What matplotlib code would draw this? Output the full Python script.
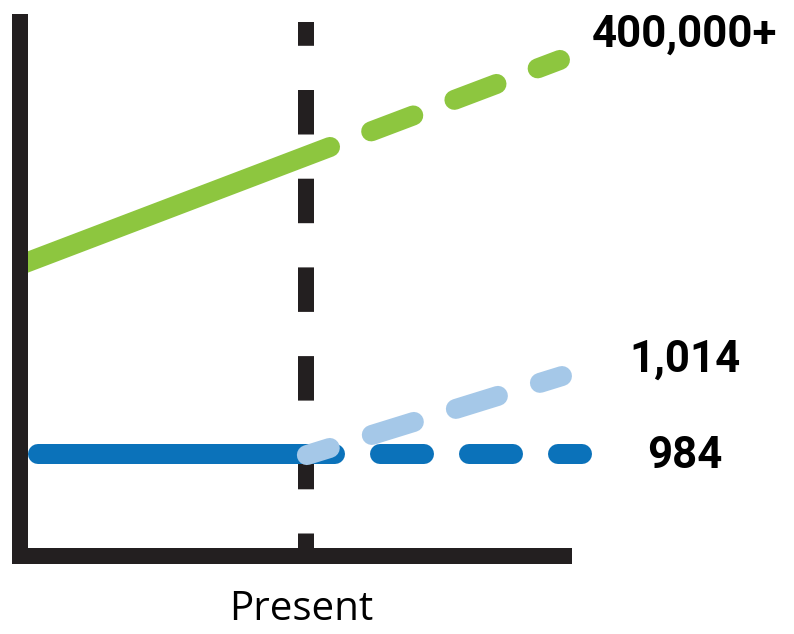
import matplotlib
matplotlib.use("Agg")
import matplotlib.pyplot as plt

plt.rcParams['lines.scale_dashes'] = False

# ---- data (schematic: x = time, present = 1.0; y = relative level) ----
present_x = 1.0
present_label = "Present"

green_x = [0.0, 1.084, 1.888]      # start, end of observed, projection
green_y = [0.545, 0.766, 0.929]

dark_x = [0.063, 1.101, 1.965]
dark_y = [0.191, 0.191, 0.191]

light_x = [1.003, 1.895]
light_y = [0.189, 0.337]

end_labels = ["400,000+", "1,014", "984"]
label_x = [2.325, 2.325, 2.325]
label_y = [0.953, 0.346, 0.165]

# ---- style ----
PX = 0.72  # points per pixel at dpi 100
BLACK = "#231F20"
GREEN = "#8DC63F"
DARK = "#0B72BA"
LIGHT = "#A5C8E8"

fig = plt.figure(figsize=(7.94, 6.34), dpi=100)
ax = fig.add_axes([20/794, 78/634, 544/794, 534/634])
ax.set_xlim(0, 544/286)
ax.set_ylim(0, 1)
ax.set_xticks([])
ax.set_yticks([])
for s in ("top", "right"):
    ax.spines[s].set_visible(False)
for s in ("left", "bottom"):
    ax.spines[s].set_linewidth(16*PX)
    ax.spines[s].set_color(BLACK)
ax.spines["bottom"].set_capstyle("projecting")

# present marker
ax.plot([present_x, present_x], [1, 0], color=BLACK, lw=16*PX,
        linestyle=(20.7*PX, (44.5*PX, 44.2*PX)), dash_capstyle='butt',
        zorder=1.5)

LW = 20*PX
# green
ax.plot(green_x[:2], green_y[:2], color=GREEN, lw=LW,
        solid_capstyle='round', zorder=2)
ax.plot(green_x[1:], green_y[1:], color=GREEN, lw=LW,
        linestyle=(45*PX, (45*PX, 44*PX)), dash_capstyle='round',
        clip_on=False, zorder=2)
# dark blue
ax.plot(dark_x[:2], dark_y[:2], color=DARK, lw=LW,
        solid_capstyle='round', zorder=2.1)
ax.plot(dark_x[1:], dark_y[1:], color=DARK, lw=LW,
        linestyle=(44*PX, (44*PX, 45*PX)), dash_capstyle='round',
        clip_on=False, zorder=2.1)
# light blue projection
ax.plot(light_x, light_y, color=LIGHT, lw=LW,
        linestyle=(20*PX, (44*PX, 44*PX)), dash_capstyle='round',
        clip_on=False, zorder=2.2)

for lx, ly, t in zip(label_x, label_y, end_labels):
    ax.text(lx, ly, t, ha='center', va='baseline', fontsize=31.5,
            fontweight='bold', family='Roboto', color='black')

ax.text(0.984, -0.120, present_label, ha='center', va='baseline',
        fontsize=29, family='Open Sans', color='black')

fig.savefig("out.png", dpi=100)
